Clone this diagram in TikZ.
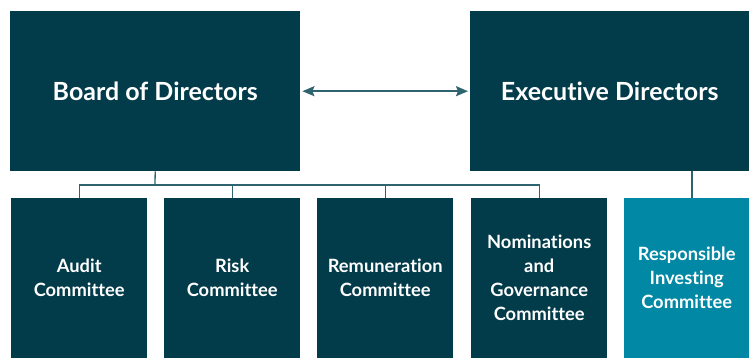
\documentclass[tikz,border=0pt]{standalone}
\usepackage{fontspec}
\setmainfont{Lato}[Ligatures=NoCommon]
\usetikzlibrary{arrows.meta}
\definecolor{boardteal}{HTML}{023B49}
\definecolor{ricteal}{HTML}{0088A4}
\definecolor{linkteal}{HTML}{2E6470}
\tikzset{
  orgbox/.style={fill=boardteal, text=white, align=center, inner sep=0pt,
    anchor=north west, minimum height=160pt,
    font=\bfseries\fontsize{18.3}{24}\selectfont},
  topbox/.style={orgbox, font=\bfseries\fontsize{25}{28}\selectfont},
  link/.style={linkteal, line width=1.3pt},
}
\begin{document}
\begin{tikzpicture}[x=1pt,y=-1pt]
\useasboundingbox (0,0) rectangle (749,360);
% top row
\node[topbox, minimum width=290pt] (board) at (10,11) {Board of Directors};
\node[topbox, minimum width=279pt] (exec) at (470,11) {Executive Directors};
%
% committees
\node[orgbox, minimum width=136pt] (audit) at (11,198) {Audit\\Committee};
\node[orgbox, minimum width=136pt] (risk) at (164,198) {Risk\\Committee};
\node[orgbox, minimum width=136pt] (remun) at (317,198) {Remuneration\\Committee};
\node[orgbox, minimum width=136pt] (nomin) at (471,198) {Nominations\\and\\Governance\\Committee};
\node[orgbox, fill=ricteal, minimum width=125pt] (resp) at (624,198) {Responsible\\Investing\\Committee};
%
\coordinate (bus) at (155,185);
\coordinate (drop) at (692,171);
\draw[link] (board.south) -- (bus);
\draw[link] (audit.north) |- (bus) -| (nomin.north);
\draw[link] (risk.north) -- (risk.north |- bus);
\draw[link] (remun.north) -- (remun.north |- bus);
\draw[link] (drop) -- (drop |- resp.north);
%
\draw[link, line width=1.8pt, shorten <=2pt, shorten >=2pt,
  {Stealth[length=12pt,width=10pt,inset=2pt]}-{Stealth[length=12pt,width=10pt,inset=2pt]}]
  (board.east) -- (exec.west);
\end{tikzpicture}
\end{document}
